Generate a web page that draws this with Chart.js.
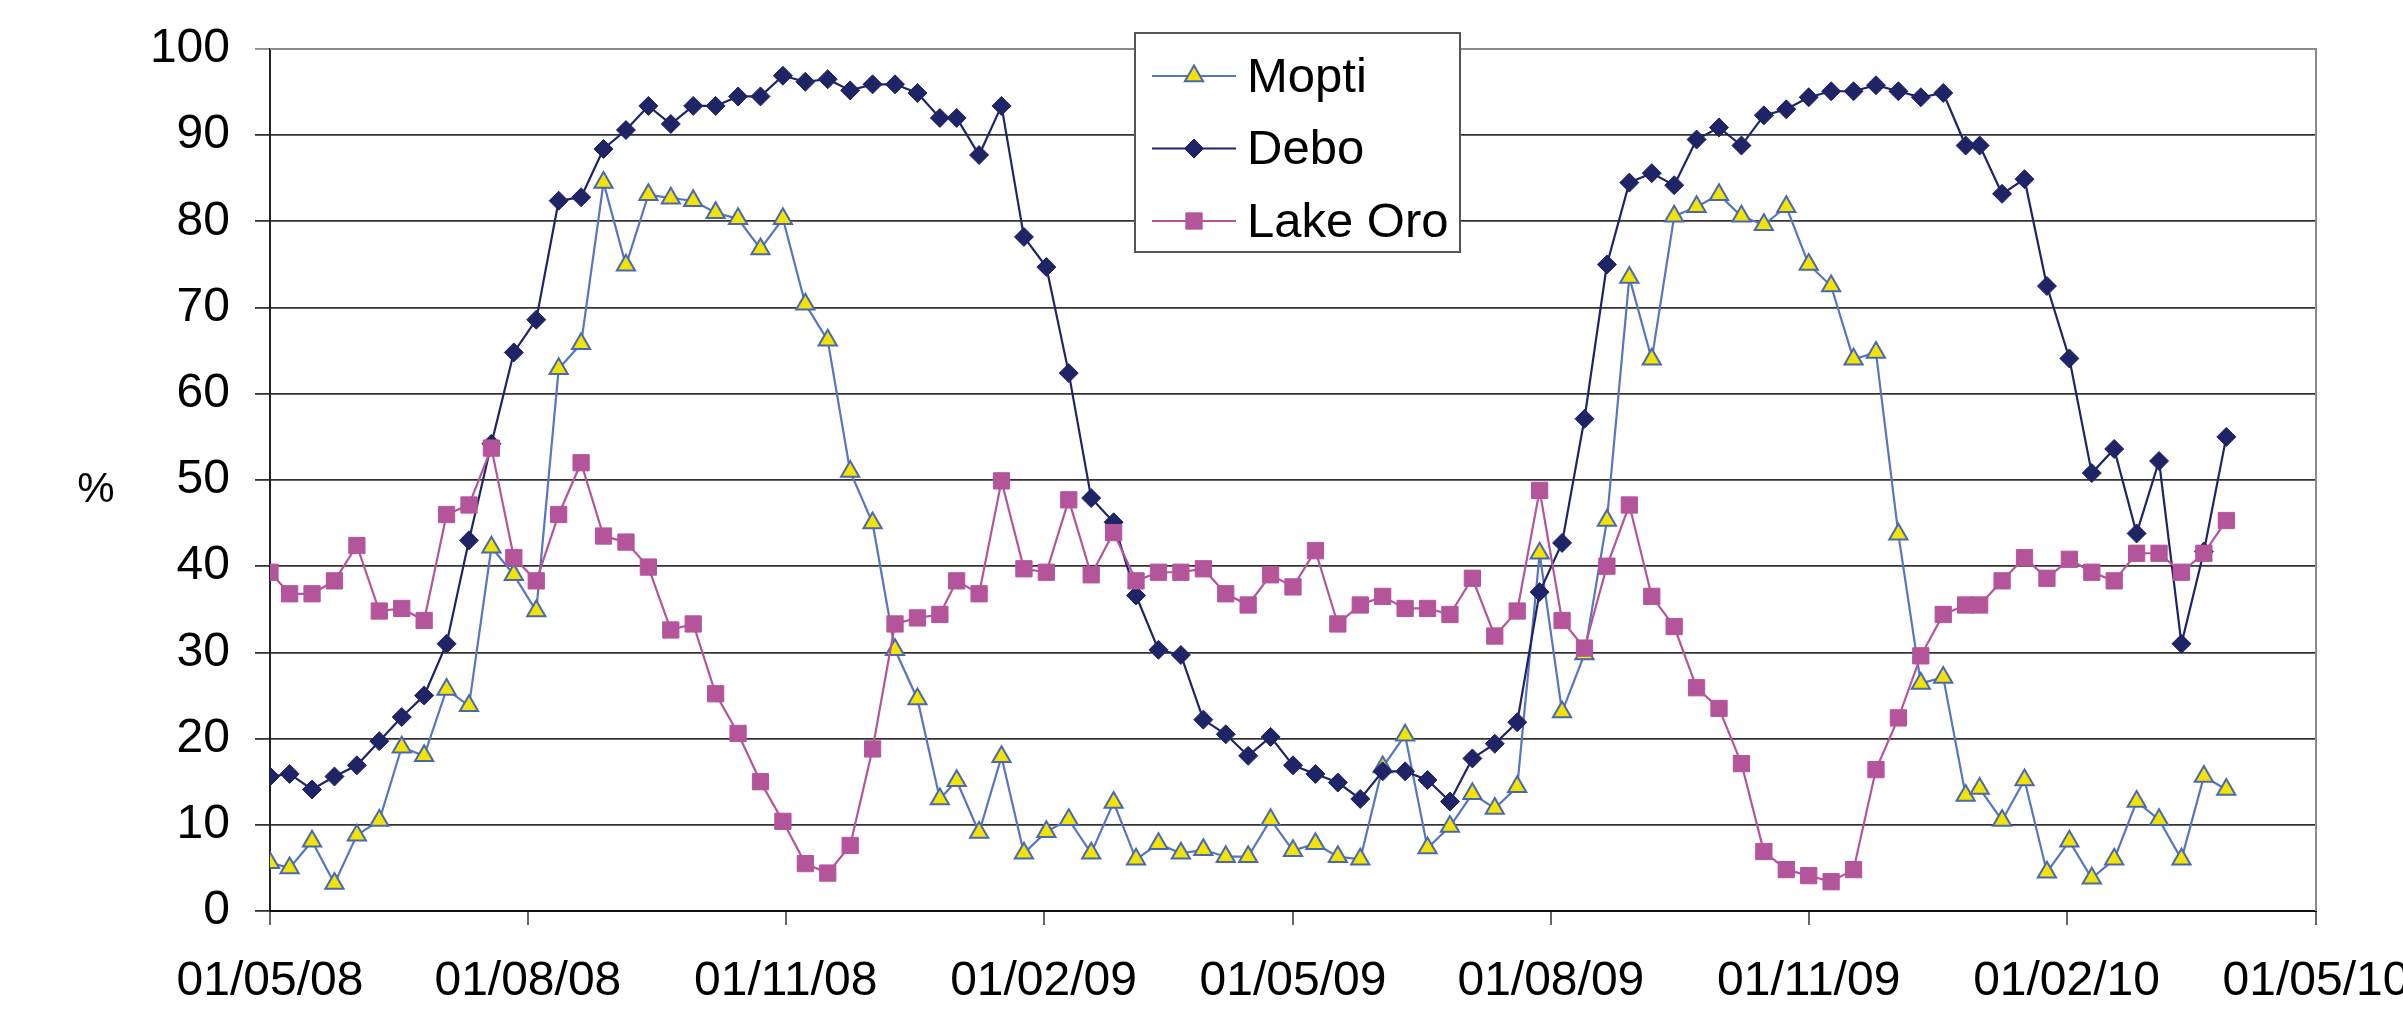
<!DOCTYPE html>
<html>
<head>
<meta charset="utf-8">
<script src="https://cdn.jsdelivr.net/npm/chart.js@4/dist/chart.umd.min.js"></script>
<style>
  html, body { margin: 0; padding: 0; background: #ffffff; }
  #wrap { width: 2403px; height: 1015px; }
</style>
</head>
<body>
<div id="wrap"><canvas id="c" width="2403" height="1015"></canvas></div>
<script>
// ---- Data (8-day composite dates, values in %) ----
const dates = [
  "2008-05-01","2008-05-08","2008-05-16","2008-05-24","2008-06-01","2008-06-09","2008-06-17","2008-06-25",
  "2008-07-03","2008-07-11","2008-07-19","2008-07-27","2008-08-04","2008-08-12","2008-08-20","2008-08-28",
  "2008-09-05","2008-09-13","2008-09-21","2008-09-29","2008-10-07","2008-10-15","2008-10-23","2008-10-31",
  "2008-11-08","2008-11-16","2008-11-24","2008-12-02","2008-12-10","2008-12-18","2008-12-26",
  "2009-01-01","2009-01-09","2009-01-17","2009-01-25","2009-02-02","2009-02-10","2009-02-18","2009-02-26",
  "2009-03-06","2009-03-14","2009-03-22","2009-03-30","2009-04-07","2009-04-15","2009-04-23","2009-05-01",
  "2009-05-09","2009-05-17","2009-05-25","2009-06-02","2009-06-10","2009-06-18","2009-06-26","2009-07-04",
  "2009-07-12","2009-07-20","2009-07-28","2009-08-05","2009-08-13","2009-08-21","2009-08-29","2009-09-06",
  "2009-09-14","2009-09-22","2009-09-30","2009-10-08","2009-10-16","2009-10-24","2009-11-01","2009-11-09",
  "2009-11-17","2009-11-25","2009-12-03","2009-12-11","2009-12-19","2009-12-27",
  "2010-01-01","2010-01-09","2010-01-17","2010-01-25","2010-02-02","2010-02-10","2010-02-18","2010-02-26",
  "2010-03-06","2010-03-14","2010-03-22","2010-03-30"
];

const mopti = [
  5.6, 5.0, 8.1, 3.2, 8.8, 10.5, 19.0, 18.0, 25.7, 23.8, 42.2, 39.0, 34.8, 62.9, 65.8, 84.5,
  74.9, 83.1, 82.7, 82.4, 81.0, 80.3, 76.8, 80.3, 70.4, 66.2, 51.0, 45.0, 30.3, 24.6, 13.0,
  15.1, 9.1, 17.9, 6.7, 9.2, 10.6, 6.7, 12.6, 6.0, 7.8, 6.7, 7.1, 6.3, 6.3, 10.6, 7.0,
  7.8, 6.3, 6.0, 16.7, 20.4, 7.3, 9.8, 13.6, 11.9, 14.4, 41.5, 23.1, 29.8, 45.3, 73.5, 64.0,
  80.6, 81.7, 83.1, 80.6, 79.6, 81.7, 75.0, 72.5, 64.0, 64.8, 43.7, 26.4, 27.1, 13.4,
  14.2, 10.5, 15.2, 4.5, 8.1, 3.8, 6.0, 12.7, 10.6, 6.0, 15.6, 14.1
];

const debo = [
  15.6, 15.9, 14.1, 15.6, 16.9, 19.7, 22.5, 25.0, 31.0, 43.0, 54.2, 64.8, 68.6, 82.4, 82.8, 88.4,
  90.6, 93.4, 91.3, 93.4, 93.4, 94.5, 94.5, 96.9, 96.2, 96.5, 95.2, 95.9, 95.9, 94.9, 92.0,
  92.0, 87.7, 93.4, 78.2, 74.7, 62.4, 47.9, 45.1, 36.6, 30.3, 29.7, 22.2, 20.5, 18.0, 20.2, 16.9,
  15.9, 14.9, 13.0, 16.2, 16.2, 15.2, 12.7, 17.7, 19.4, 21.9, 37.0, 42.7, 57.1, 75.0, 84.5, 85.6,
  84.2, 89.5, 90.9, 88.8, 92.3, 93.0, 94.4, 95.1, 95.1, 95.8, 95.1, 94.4, 94.9, 88.8,
  88.8, 83.2, 84.9, 72.5, 64.1, 50.8, 53.6, 43.8, 52.2, 31.0, 41.7, 55.0
];

const lakeOro = [
  39.3, 36.8, 36.8, 38.3, 42.4, 34.8, 35.1, 33.7, 46.0, 47.1, 53.7, 41.0, 38.3, 46.0, 52.0, 43.5,
  42.8, 39.9, 32.6, 33.3, 25.2, 20.6, 15.0, 10.4, 5.5, 4.4, 7.6, 18.8, 33.3, 34.0, 34.4,
  38.3, 36.8, 49.9, 39.7, 39.3, 47.7, 39.0, 43.9, 38.3, 39.3, 39.3, 39.7, 36.8, 35.5, 39.0, 37.6,
  41.8, 33.3, 35.5, 36.5, 35.1, 35.1, 34.4, 38.6, 31.9, 34.8, 48.8, 33.7, 30.5, 40.0, 47.1, 36.5,
  33.0, 25.9, 23.5, 17.1, 6.9, 4.8, 4.1, 3.4, 4.8, 16.4, 22.4, 29.6, 34.4, 35.5,
  35.5, 38.3, 41.0, 38.6, 40.8, 39.3, 38.3, 41.5, 41.5, 39.3, 41.5, 45.3
];

const seriesNames = ["Mopti", "Debo", "Lake Oro"];
const xTickDates = ["2008-05-01","2008-08-01","2008-11-01","2009-02-01","2009-05-01","2009-08-01","2009-11-01","2010-02-01","2010-05-01"];
const xTickLabels = ["01/05/08","01/08/08","01/11/08","01/02/09","01/05/09","01/08/09","01/11/09","01/02/10","01/05/10"];
const yTicks = [0, 10, 20, 30, 40, 50, 60, 70, 80, 90, 100];
const yAxisLabel = "%";

// ---- helpers ----
const DAY = 86400000;
const origin = Date.parse(xTickDates[0] + "T00:00:00Z");
const toDay = d => Math.round((Date.parse(d + "T00:00:00Z") - origin) / DAY);
const xDays = dates.map(toDay);
const tickDays = xTickDates.map(toDay);
const pts = vals => vals.map((v, i) => ({ x: xDays[i], y: v }));

const FONT = "'Liberation Sans', Arial, Helvetica, sans-serif";

const styles = [
  { line: '#5677C0', fill: '#F2E300', border: '#4A68B2', pointStyle: 'triangle', radius: 10.5, bw: 2 },
  { line: '#1F2466', fill: '#1F2466', border: '#1F2466', pointStyle: 'rectRot', radius: 9.5, bw: 1 },
  { line: '#B4559B', fill: '#B4559B', border: '#B4559B', pointStyle: 'rect', radius: 11.5, bw: 1 }
];
const seriesValues = [mopti, debo, lakeOro];

const datasets = seriesValues.map((vals, i) => ({
  label: seriesNames[i],
  data: pts(vals),
  borderColor: styles[i].line,
  borderWidth: 2.2,
  backgroundColor: styles[i].fill,
  pointStyle: styles[i].pointStyle,
  pointRadius: styles[i].radius,
  pointBackgroundColor: styles[i].fill,
  pointBorderColor: styles[i].border,
  pointBorderWidth: styles[i].bw,
  pointHoverRadius: styles[i].radius,
  tension: 0,
  fill: false,
  order: [3, 2, 1][i]
}));

const extrasPlugin = {
  id: 'extras',
  beforeDatasetsDraw(chart) {
    const { ctx, chartArea: a } = chart;
    ctx.save();
    ctx.strokeStyle = '#8a8a8a';
    ctx.lineWidth = 2;
    ctx.beginPath();
    ctx.moveTo(a.left, a.top);
    ctx.lineTo(a.right, a.top);
    ctx.lineTo(a.right, a.bottom);
    ctx.stroke();
    ctx.restore();
  },
  afterDraw(chart) {
    const { ctx } = chart;
    ctx.save();
    // "%" axis label
    ctx.fillStyle = '#000';
    ctx.font = '42px ' + FONT;
    ctx.textAlign = 'center';
    ctx.textBaseline = 'middle';
    ctx.fillText(yAxisLabel, 96, 490);

    // legend box
    const bx = 1135, by = 33, bw = 325, bh = 219;
    ctx.fillStyle = '#ffffff';
    ctx.fillRect(bx, by, bw, bh);
    ctx.strokeStyle = '#555';
    ctx.lineWidth = 2;
    ctx.strokeRect(bx, by, bw, bh);
    const rowY = [76, 148.5, 221];
    chart.data.datasets.forEach((ds, i) => {
      const y = rowY[i];
      ctx.strokeStyle = ds.borderColor;
      ctx.lineWidth = 2;
      ctx.beginPath();
      ctx.moveTo(1152, y);
      ctx.lineTo(1236, y);
      ctx.stroke();
      ctx.fillStyle = ds.pointBackgroundColor;
      ctx.strokeStyle = ds.pointBorderColor;
      ctx.lineWidth = ds.pointBorderWidth;
      Chart.helpers.drawPoint(ctx, { pointStyle: ds.pointStyle, radius: ds.pointRadius, rotation: 0, borderWidth: ds.pointBorderWidth }, 1194, y);
      ctx.fillStyle = '#000';
      ctx.font = '49px ' + FONT;
      ctx.textAlign = 'left';
      ctx.textBaseline = 'middle';
      ctx.fillText(ds.label, 1247, y + 2);
    });
    ctx.restore();
  }
};

const chart = new Chart(document.getElementById('c'), {
  type: 'line',
  data: { datasets },
  plugins: [extrasPlugin],
  options: {
    responsive: false,
    animation: false,
    devicePixelRatio: 1,
    layout: { padding: { top: 49, right: 87, bottom: 0, left: 0 } },
    plugins: { legend: { display: false }, tooltip: { enabled: false } },
    scales: {
      x: {
        type: 'linear',
        min: tickDays[0],
        max: tickDays[tickDays.length - 1],
        afterBuildTicks: s => { s.ticks = tickDays.map(v => ({ value: v })); },
        afterFit: s => { s.height = 104; s.paddingLeft = 0; s.paddingRight = 0; },
        ticks: {
          autoSkip: false,
          maxRotation: 0,
          minRotation: 0,
          padding: 28,
          color: '#000',
          font: { size: 48, family: FONT },
          callback: (v) => { const k = tickDays.indexOf(v); return k >= 0 ? xTickLabels[k] : ''; }
        },
        grid: { drawOnChartArea: false, drawTicks: true, tickLength: 14, color: '#666', lineWidth: 2 },
        border: { display: true, color: '#111', width: 2 }
      },
      y: {
        min: yTicks[0],
        max: yTicks[yTicks.length - 1],
        afterBuildTicks: s => { s.ticks = yTicks.map(v => ({ value: v })); },
        afterFit: s => { s.width = 270; s.paddingTop = 0; s.paddingBottom = 0; },
        ticks: {
          padding: 25,
          color: '#000',
          font: { size: 48, family: FONT }
        },
        grid: {
          drawTicks: true,
          tickLength: 15,
          color: ctx => (ctx.tick && ctx.tick.value === 100) ? '#8a8a8a' : '#333333',
          lineWidth: 1.8
        },
        border: { display: true, color: '#222', width: 2 }
      }
    }
  }
});
</script>
</body>
</html>
